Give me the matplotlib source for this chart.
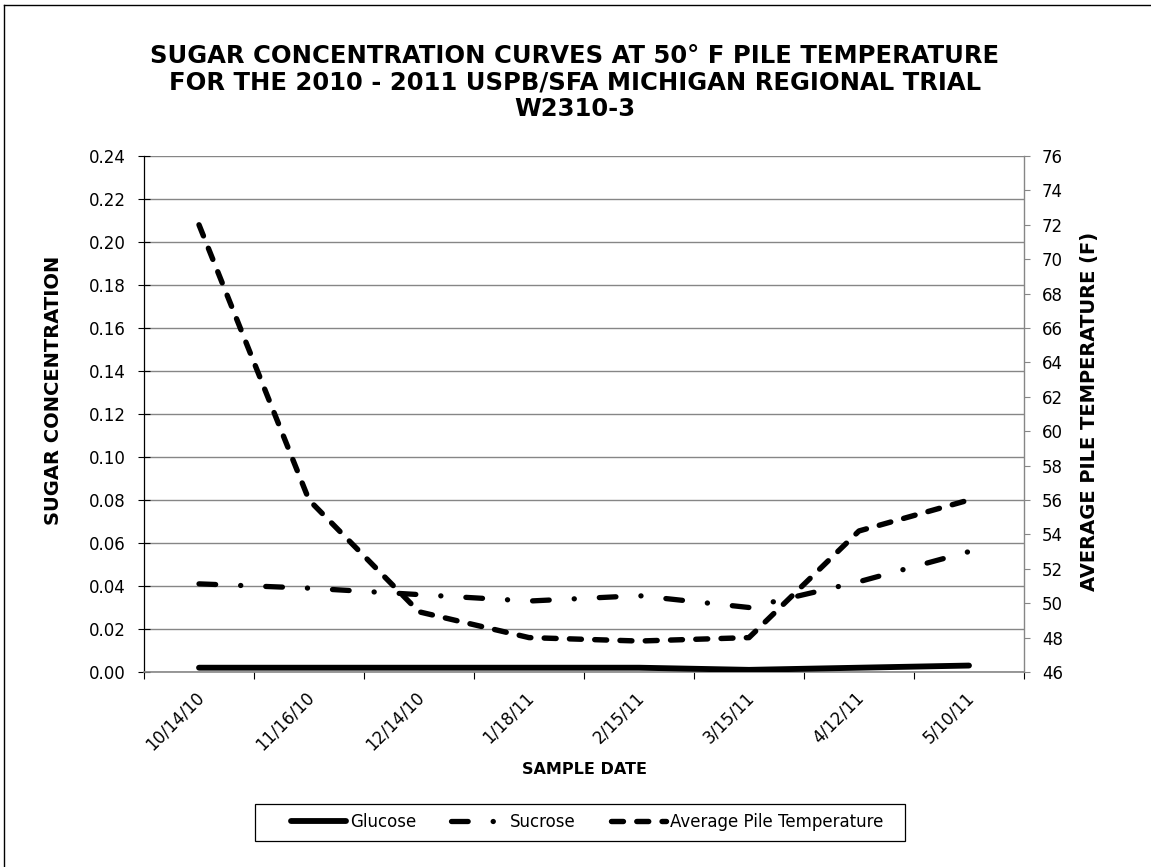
import matplotlib
matplotlib.use('Agg')
from matplotlib import pyplot as plt
from matplotlib.lines import Line2D
from matplotlib.patches import Rectangle
import matplotlib.transforms as mtransforms
import numpy as np

plt.rcParams['font.family'] = ['DejaVu Sans']
plt.rcParams['lines.scale_dashes'] = False

# data
dates = ['10/14/10', '11/16/10', '12/14/10', '1/18/11',
         '2/15/11', '3/15/11', '4/12/11', '5/10/11']
glucose = [0.002, 0.002, 0.002, 0.002, 0.002, 0.001, 0.002, 0.003]
sucrose = [0.041, 0.039, 0.036, 0.033, 0.0355, 0.030, 0.042, 0.056]
pile_temp = [72.0, 56.0, 49.5, 48.0, 47.8, 48.0, 54.2, 56.0]

W, H = 1151, 867
GRID = '#868686'

fig = plt.figure(figsize=(W / 100, H / 100), dpi=100)
ax = fig.add_axes([144 / W, 1 - 672 / H, 880 / W, 516 / H])
ax2 = ax.twinx()

x = np.arange(len(dates))

ax.plot(x, glucose, color='black', lw=4.2, solid_capstyle='round',
        label='Glucose', zorder=3)
ax.plot(x, sucrose, color='black', lw=3.8, dash_capstyle='round',
        dashes=(12.0, 18.0, 0.1, 18.0), label='Sucrose', zorder=3)
ax2.plot(x, pile_temp, color='black', lw=3.9, dash_capstyle='round',
         dashes=(8.6, 9.6), label='Average Pile Temperature', zorder=3)

# left axis
ax.set_xlim(-0.5, len(dates) - 0.5)
ax.set_ylim(0, 0.24)
ax.set_yticks(np.arange(0, 0.2401, 0.02))
ax.set_yticklabels([f'{v:.2f}' for v in np.arange(0, 0.2401, 0.02)])
ax.yaxis.grid(True, color=GRID, lw=1.0)
ax.set_axisbelow(True)
ax.tick_params(axis='y', direction='inout', length=8, width=0.8,
               labelsize=12, pad=9)

# categories: labels at centres, tick marks at the boundaries
ax.set_xticks(x)
ax.set_xticklabels(dates, rotation=45, ha='right', va='top',
                   rotation_mode='anchor')
ax.set_xticks(np.arange(-0.5, len(dates)), minor=True)
ax.tick_params(axis='x', which='major', length=0, labelsize=12, pad=12)
ax.tick_params(axis='x', which='minor', length=5, width=0.8,
               direction='out')
shift = mtransforms.ScaledTranslation(-4 / 100, 0, fig.dpi_scale_trans)
for lbl in ax.get_xticklabels():
    lbl.set_transform(lbl.get_transform() + shift)

# right axis
ax2.set_ylim(46, 76)
ax2.set_yticks(range(46, 77, 2))
ax2.tick_params(axis='y', direction='out', length=4, width=0.8,
                color=GRID, labelsize=12, pad=9)

for a in (ax, ax2):
    a.spines['top'].set_visible(False)
ax2.spines['left'].set_visible(False)
ax2.spines['bottom'].set_visible(False)
ax.spines['right'].set_visible(False)
ax.spines['left'].set_color('black')
ax.spines['left'].set_linewidth(0.9)
ax.spines['bottom'].set_color(GRID)
ax.spines['bottom'].set_linewidth(1.2)
ax2.spines['right'].set_color(GRID)
ax2.spines['right'].set_linewidth(1.0)

# titles and axis labels
title_lines = ['SUGAR CONCENTRATION CURVES AT 50° F PILE TEMPERATURE',
               'FOR THE 2010 - 2011 USPB/SFA MICHIGAN REGIONAL TRIAL',
               'W2310-3']
for i, line in enumerate(title_lines):
    fig.text(575 / W, 1 - (56 + 26.5 * i) / H, line, ha='center',
             va='center', fontsize=17.5, weight='bold')

fig.text(54 / W, 1 - 390 / H, 'SUGAR CONCENTRATION', rotation=90,
         ha='center', va='center', fontsize=14, weight='bold')
fig.text(1089 / W, 1 - 411 / H, 'AVERAGE PILE TEMPERATURE (F)',
         rotation=90, ha='center', va='center', fontsize=14,
         weight='bold')
fig.text(584 / W, 1 - 770 / H, 'SAMPLE DATE', ha='center', va='center',
         fontsize=11.5, weight='bold')

# legend under the chart, frame drawn separately
h1, l1 = ax.get_legend_handles_labels()
h2, l2 = ax2.get_legend_handles_labels()
fig.legend(h1 + h2, l1 + l2, ncol=3, loc='center',
           bbox_to_anchor=(587 / W, 1 - 822 / H), fontsize=12,
           handlelength=3.3, handletextpad=0.25, columnspacing=2.1,
           frameon=False, borderpad=0, borderaxespad=0)
fig.add_artist(Rectangle((255 / W, 1 - 841 / H), 650 / W, 37 / H,
                         fill=False, edgecolor='black', lw=0.9,
                         transform=fig.transFigure))

# outer border of the chart object (top and left only visible)
fig.add_artist(Line2D([4 / W, 4 / W], [0, 1 - 5 / H], color='black',
                      lw=1.0, transform=fig.transFigure))
fig.add_artist(Line2D([4 / W, 1], [1 - 5 / H, 1 - 5 / H], color='black',
                      lw=1.0, transform=fig.transFigure))

fig.savefig('out.png', dpi=100)
